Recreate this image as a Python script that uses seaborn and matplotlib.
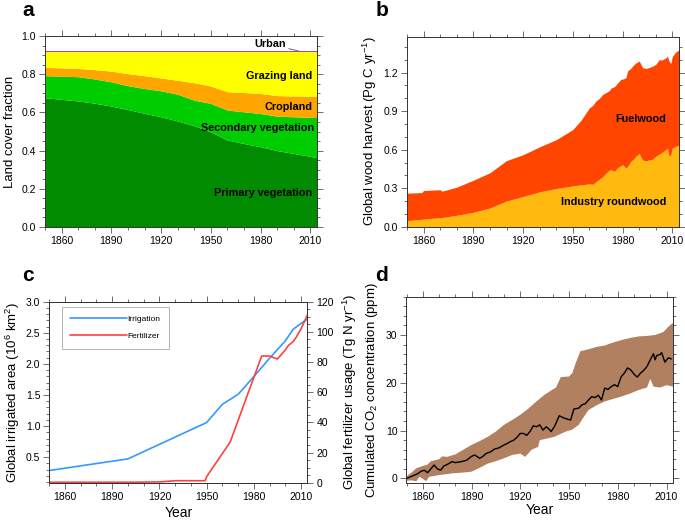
import numpy as np
import pandas as pd
import matplotlib
matplotlib.use("Agg")
import matplotlib.pyplot as plt
import seaborn as sns
from matplotlib.ticker import MultipleLocator

sns.set_theme(style="ticks")
plt.rcParams['font.family'] = ['Liberation Sans', 'DejaVu Sans']
plt.rcParams['mathtext.fontset'] = 'custom'
plt.rcParams['mathtext.rm'] = 'Liberation Sans'
plt.rcParams['mathtext.it'] = 'Liberation Sans'
plt.rcParams['mathtext.bf'] = 'Liberation Sans:bold'
plt.rcParams['text.color'] = 'black'
plt.rcParams['axes.labelcolor'] = 'black'
plt.rcParams['xtick.labelcolor'] = 'black'
plt.rcParams['ytick.labelcolor'] = 'black'

# ---------------- data ----------------
# (a) land cover fractions
lc_years = [1850, 1860, 1870, 1880, 1890, 1900, 1910, 1920, 1930, 1940,
            1950, 1960, 1970, 1980, 1990, 2000, 2010, 2014]
primary = [0.677, 0.668, 0.660, 0.648, 0.633, 0.615, 0.595, 0.577, 0.555, 0.530,
           0.498, 0.455, 0.437, 0.420, 0.400, 0.385, 0.370, 0.362]
secondary = [0.115, 0.122, 0.127, 0.127, 0.127, 0.125, 0.130, 0.136, 0.140, 0.134,
             0.149, 0.157, 0.166, 0.174, 0.180, 0.192, 0.204, 0.211]
cropland = [0.044, 0.043, 0.043, 0.049, 0.056, 0.063, 0.067, 0.067, 0.073, 0.091,
            0.091, 0.096, 0.101, 0.105, 0.108, 0.109, 0.111, 0.112]
grazing = [0.082, 0.085, 0.088, 0.094, 0.102, 0.115, 0.126, 0.138, 0.150, 0.163,
           0.180, 0.210, 0.214, 0.219, 0.230, 0.232, 0.233, 0.233]
urban = [0.002, 0.002, 0.002, 0.002, 0.002, 0.002, 0.002, 0.002, 0.002, 0.002,
         0.002, 0.002, 0.002, 0.002, 0.002, 0.002, 0.002, 0.002]
lc_names = ["Primary vegetation", "Secondary vegetation", "Cropland", "Grazing land", "Urban"]

# (b) wood harvest (Pg C / yr)
wood_years = [1850, 1859, 1860, 1870, 1871, 1880, 1890, 1900, 1910, 1920, 1930, 1940,
              1950, 1955, 1960, 1962, 1964, 1966, 1968, 1970, 1972, 1973, 1975, 1977,
              1979, 1980, 1982, 1983, 1985, 1987, 1988, 1990, 1992, 1994, 1996, 1998,
              2000, 2002, 2004, 2006, 2007, 2008, 2009, 2010, 2012, 2014]
industry_roundwood = [0.047, 0.058, 0.060, 0.070, 0.071, 0.089, 0.112, 0.146, 0.200, 0.235,
                      0.272, 0.297, 0.318, 0.326, 0.334, 0.330, 0.352, 0.370, 0.390, 0.418,
                      0.440, 0.444, 0.431, 0.460, 0.475, 0.483, 0.457, 0.470, 0.509, 0.530,
                      0.550, 0.569, 0.520, 0.512, 0.520, 0.525, 0.548, 0.565, 0.580, 0.600,
                      0.613, 0.548, 0.560, 0.613, 0.625, 0.635]
total_harvest = [0.261, 0.266, 0.282, 0.288, 0.276, 0.308, 0.362, 0.420, 0.515, 0.561,
                 0.622, 0.678, 0.757, 0.830, 0.926, 0.945, 0.980, 1.000, 1.030, 1.045,
                 1.060, 1.080, 1.090, 1.120, 1.148, 1.150, 1.160, 1.213, 1.235, 1.265,
                 1.275, 1.291, 1.240, 1.232, 1.240, 1.250, 1.265, 1.300, 1.300, 1.315,
                 1.330, 1.290, 1.270, 1.327, 1.360, 1.378]

# (c) irrigation (10^6 km2) and fertilizer (Tg N / yr)
irr_years = [1850, 1900, 1950, 1960, 1970, 1980, 1990, 2000, 2005, 2010, 2014]
irrigation = [0.286, 0.473, 1.057, 1.35, 1.51, 1.795, 2.09, 2.37, 2.556, 2.65, 2.72]
fert_years = [1850, 1900, 1920, 1930, 1949, 1950, 1965, 1985, 1990, 1995, 2000, 2002,
              2005, 2007, 2010, 2014]
fertilizer = [0.3, 0.3, 0.5, 1.3, 1.3, 4.0, 27.0, 84.0, 84.0, 82.0, 88.0, 91.0,
              93.5, 96.5, 102.0, 111.0]

# (d) cumulated CO2 concentration (ppm)
co2_years = [1850, 1853, 1855, 1857, 1859, 1861, 1863, 1865, 1867, 1869, 1871, 1873,
             1875, 1878, 1880, 1882, 1885, 1887, 1890, 1892, 1895, 1897, 1899, 1902,
             1904, 1907, 1910, 1912, 1914, 1916, 1918, 1920, 1922, 1924, 1926, 1928,
             1930, 1932, 1934, 1936, 1938, 1939, 1941, 1944, 1947, 1949, 1951, 1953,
             1956, 1958, 1960, 1962, 1964, 1966, 1968, 1970, 1972, 1974, 1976, 1978,
             1980, 1982, 1984, 1986, 1988, 1990, 1992, 1994, 1996, 1998, 2000, 2002,
             2003, 2004, 2006, 2007, 2009, 2011, 2013]
co2_mean = [0.0, 0.4, 0.7, 1.0, 1.5, 1.7, 1.2, 2.0, 2.8, 2.0, 1.7, 2.6,
            2.9, 3.5, 3.3, 3.4, 3.6, 3.8, 4.6, 4.9, 4.2, 4.6, 5.2, 5.6,
            6.1, 6.4, 7.0, 7.3, 7.7, 8.0, 8.6, 9.4, 9.4, 9.0, 9.8, 11.0,
            10.8, 11.2, 10.1, 10.8, 10.2, 9.8, 10.8, 13.1, 12.6, 12.4, 12.2, 14.5,
            14.7, 15.4, 15.6, 16.4, 17.1, 16.9, 17.4, 16.4, 18.9, 18.6, 19.2, 19.6,
            19.2, 21.2, 22.0, 23.1, 22.7, 21.8, 21.2, 22.0, 22.6, 23.4, 24.8, 26.1,
            24.8, 25.7, 25.9, 26.3, 24.3, 25.2, 25.0]
upper_years = [1850, 1853, 1856, 1860, 1863, 1865, 1870, 1872, 1875, 1880, 1885, 1890,
               1895, 1900, 1905, 1910, 1915, 1920, 1925, 1930, 1935, 1940, 1942, 1945,
               1950, 1952, 1954, 1957, 1962, 1967, 1972, 1977, 1983, 1988, 1993, 1998,
               2003, 2008, 2010, 2012, 2014]
co2_upper = [0.4, 1.2, 2.1, 2.6, 2.9, 3.6, 4.0, 4.6, 4.5, 5.0, 6.0, 7.0,
             7.8, 8.7, 9.8, 11.2, 12.2, 13.3, 14.6, 16.1, 17.5, 18.6, 19.0, 21.2,
             21.3, 22.0, 24.0, 26.6, 27.0, 27.5, 27.8, 28.4, 29.0, 29.4, 29.7, 29.8,
             30.0, 30.6, 31.3, 32.0, 32.5]
lower_years = [1850, 1853, 1856, 1858, 1861, 1862, 1864, 1867, 1870, 1875, 1878, 1884,
               1890, 1895, 1900, 1905, 1910, 1915, 1920, 1923, 1927, 1931, 1932, 1936,
               1941, 1948, 1952, 1956, 1959, 1962, 1967, 1972, 1977, 1983, 1988, 1993,
               1998, 2000, 2002, 2006, 2010, 2014]
co2_lower = [-0.5, -0.4, -0.6, 0.35, -0.3, -0.6, 0.35, 0.5, 0.7, 0.9, 1.05, 1.2,
             1.4, 2.2, 3.1, 3.6, 4.2, 4.9, 5.2, 4.5, 6.0, 6.6, 8.0, 8.3,
             8.7, 9.8, 10.2, 11.2, 12.8, 14.3, 15.3, 16.1, 16.6, 17.2, 17.8, 18.5,
             19.0, 20.8, 19.2, 19.0, 19.5, 19.2]

# ---------------- figure ----------------
W, H = 685, 522
fig = plt.figure(figsize=(W / 100, H / 100), dpi=100)


def add_ax(left, right, top, bottom):
    return fig.add_axes([left / W, 1 - bottom / H, (right - left) / W, (bottom - top) / H])


def ftext(x, y, s, **kw):
    fig.text(x / W, 1 - y / H, s, **kw)


TICK = 7.5
SPINE_C = "#333333"


def style(ax, right=True):
    for s in ax.spines.values():
        s.set_visible(True)
        s.set_linewidth(0.7)
        s.set_color(SPINE_C)
    ax.tick_params(which="both", direction="out", top=True, right=right,
                   labelsize=TICK, color="#555555", labelcolor="black", width=0.6, pad=2.5)
    ax.tick_params(which="major", length=4)
    ax.tick_params(which="minor", length=2)
    ax.set_xlim(1850, 2014)
    ax.xaxis.set_major_locator(MultipleLocator(30))
    ax.xaxis.set_minor_locator(MultipleLocator(10))
    ax.set_xticks([1860, 1890, 1920, 1950, 1980, 2010])
    ax.set_xlabel("")
    ax.set_ylabel("")
    ax.set_facecolor("white")


# ---- panel a ----
axa = add_ax(45, 317, 36, 227)
lc_colors = ["#008B00", "#00CD00", "#FFA500", "#FFFF00", "#D020D0"]
layers = [primary, secondary, cropland, grazing, urban]
base = np.zeros(len(lc_years))
for vals, col in zip(layers, lc_colors):
    top = base + np.array(vals)
    axa.fill_between(lc_years, base, top, color=col, lw=0)
    base = top
sns.lineplot(x=lc_years, y=base, ax=axa, color="#B040B0", lw=0.7)
style(axa)
axa.set_ylim(0, 1.0)
axa.yaxis.set_major_locator(MultipleLocator(0.2))
axa.yaxis.set_minor_locator(MultipleLocator(0.05))
axa.set_yticklabels([f"{v:.1f}" for v in axa.get_yticks()])
lab_kw = dict(fontsize=7.8, fontweight="bold", ha="right", va="center", color="black")
axa.text(2011, 0.79, "Grazing land", **lab_kw)
axa.text(2011, 0.63, "Cropland", **lab_kw)
axa.text(2012, 0.517, "Secondary vegetation", **lab_kw)
axa.text(2011, 0.18, "Primary vegetation", **lab_kw)
axa.annotate("Urban", xy=(2003, 0.921), xytext=(1995, 0.958), fontsize=7.8,
             fontweight="bold", ha="right", va="center",
             arrowprops=dict(arrowstyle="-", lw=0.6, color="#555555", shrinkA=0, shrinkB=0))

# ---- panel b ----
axb = add_ax(407, 679, 36.7, 226.7)
axb.fill_between(wood_years, 0, industry_roundwood, color="#FFB90F", lw=0)
axb.fill_between(wood_years, industry_roundwood, total_harvest, color="#FF4500", lw=0)
style(axb)
axb.set_ylim(0, 1.48)
axb.yaxis.set_major_locator(MultipleLocator(0.3))
axb.yaxis.set_minor_locator(MultipleLocator(0.1))
axb.set_yticks([0, 0.3, 0.6, 0.9, 1.2])
axb.set_yticklabels(["0.0", "0.3", "0.6", "0.9", "1.2"])
axb.text(2006.5, 0.84, "Fuelwood", **lab_kw)
axb.text(2006.5, 0.196, "Industry roundwood", **lab_kw)

# ---- panel c ----
axc = add_ax(49.3, 307.3, 301.7, 482.7)
sns.lineplot(x=irr_years, y=irrigation, ax=axc, color="#3399FF", lw=1.2, label="Irrigation")
axc2 = axc.twinx()
sns.lineplot(x=fert_years, y=fertilizer, ax=axc2, color="#FF4040", lw=1.2, label="Fertilizer")
style(axc, right=False)
axc.set_ylim(0.09, 3.0)
axc.yaxis.set_major_locator(MultipleLocator(0.5))
axc.yaxis.set_minor_locator(MultipleLocator(0.1))
axc.set_yticks([0.5, 1.0, 1.5, 2.0, 2.5, 3.0])
axc.set_yticklabels(["0.5", "1.0", "1.5", "2.0", "2.5", "3.0"])
axc2.set_ylim(0, 120)
axc2.yaxis.set_major_locator(MultipleLocator(20))
axc2.yaxis.set_minor_locator(MultipleLocator(5))
axc2.tick_params(which="both", direction="out", labelsize=TICK, color="#555555",
                 labelcolor="black", width=0.6, pad=2.5)
axc2.tick_params(which="major", length=4)
axc2.tick_params(which="minor", length=2)
axc2.set_ylabel("")
for s in axc2.spines.values():
    s.set_linewidth(0.7)
    s.set_color(SPINE_C)
h1, l1 = axc.get_legend_handles_labels()
h2, l2 = axc2.get_legend_handles_labels()
if axc2.get_legend():
    axc2.get_legend().remove()
if axc.get_legend():
    axc.get_legend().remove()
leg = axc2.legend(h1 + h2, l1 + l2, loc="upper left", bbox_to_anchor=(0.048, 0.973),
                  fontsize=6.0, handlelength=6.8, handletextpad=0.1, labelspacing=1.15,
                  borderpad=1.0, borderaxespad=0, fancybox=False, framealpha=1,
                  edgecolor="#AAAAAA")
leg.get_frame().set_linewidth(0.6)
axc.set_xlabel("Year", fontsize=10, labelpad=3)

# ---- panel d ----
axd = add_ax(406.5, 673, 296.7, 482.7)
band_x = list(upper_years) + list(lower_years)[::-1]
band_y = list(co2_upper) + list(co2_lower)[::-1]
axd.fill(band_x, band_y, color="#B08060", lw=0)
sns.lineplot(x=co2_years, y=co2_mean, ax=axd, color="black", lw=1.0)
style(axd)
axd.set_ylim(-0.9, 38)
axd.yaxis.set_major_locator(MultipleLocator(10))
axd.yaxis.set_minor_locator(MultipleLocator(2))
axd.set_xlabel("Year", fontsize=10, labelpad=1)

# ---- labels ----
yl = dict(fontsize=9.5, rotation=90, ha="center", va="center", color="black")
ftext(10, 131.5, "Land cover fraction", **yl)
ftext(370, 131.5, "Global wood harvest (Pg C yr$^{-1}$)", **yl)
ftext(12.5, 392, "Global irrigated area (10$^{6}$ km$^{2}$)", **yl)
ftext(350, 392, "Global fertilizer usage (Tg N yr$^{-1}$)", **yl)
ftext(372, 390, "Cumulated CO$_2$ concentration (ppm)", **yl)

pl = dict(fontsize=15, fontweight="bold", ha="left", va="baseline", color="black")
ftext(22, 16, "a", **pl)
ftext(376, 16, "b", **pl)
ftext(22, 281, "c", **pl)
ftext(375, 281, "d", **pl)

fig.savefig("out.png", dpi=100, facecolor="white")
